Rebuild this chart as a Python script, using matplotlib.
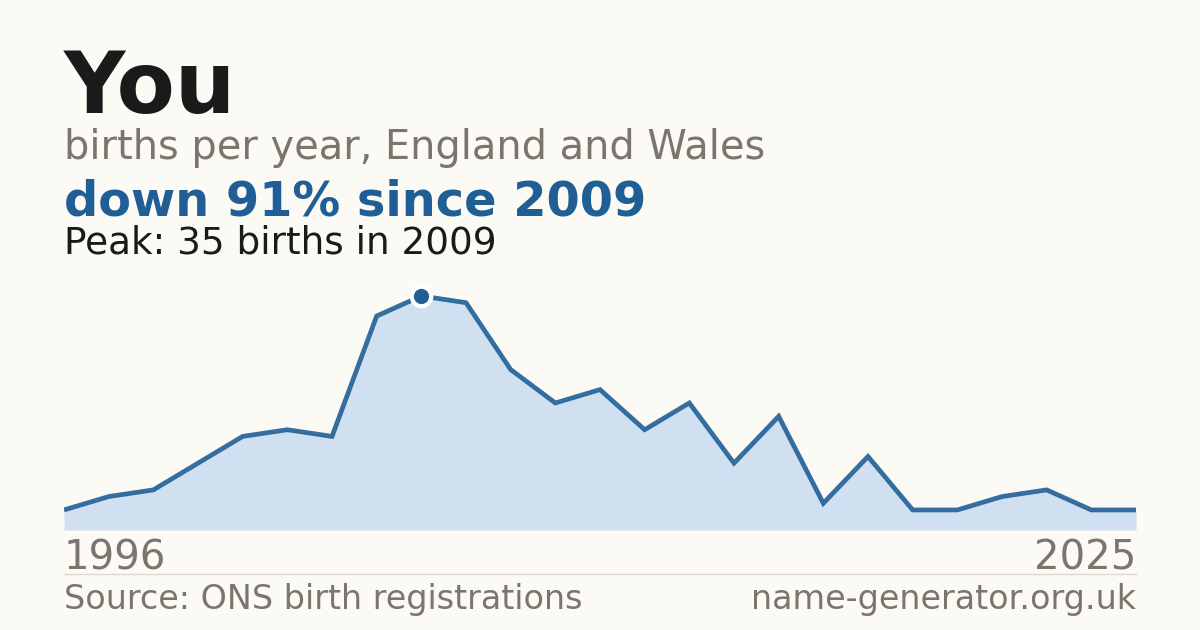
import matplotlib
matplotlib.use("Agg")
import matplotlib.pyplot as plt

# Births per year for the name, England and Wales (years with too few births are not published)
years = [1996, 1998, 2000, 2002, 2004, 2005, 2006, 2007, 2009, 2010, 2011, 2012, 2013,
         2014, 2015, 2016, 2017, 2018, 2019, 2020, 2021, 2022, 2023, 2024, 2025]
births = [3, 5, 6, 10, 14, 15, 14, 32, 35, 34, 24, 19, 21,
          15, 19, 10, 17, 4, 11, 3, 3, 5, 6, 3, 3]

title = "You"
subtitle = "births per year, England and Wales"
headline = "down 91% since 2009"
peak_note = "Peak: 35 births in 2009"
source = "Source: ONS birth registrations"
site = "name-generator.org.uk"

bg = "#fbfaf5"
blue = "#1f5f96"
fill = "#d0e0f0"
grey = "#7a756d"
dark = "#1a1a1a"

fig = plt.figure(figsize=(12, 6.3), dpi=100, facecolor=bg)

# Chart area: x 64..1136 px, y 280..530 px
ax = fig.add_axes([64 / 1200, 100 / 630, 1072 / 1200, 250 / 630])
ax.set_facecolor(bg)

idx = list(range(len(years)))
ax.fill_between(idx, births, 0, color=fill, linewidth=0)
ax.plot(idx, births, color=blue, linewidth=3.4, alpha=0.9, solid_joinstyle="miter", solid_capstyle="butt")

# Highlight the peak
peak = births.index(max(births))
ax.plot(idx[peak], births[peak], "o", color=blue, markersize=14,
        markeredgecolor="white", markeredgewidth=3, zorder=5)

ax.set_xlim(0, len(years) - 1)
ax.set_ylim(0, max(births) * 250 / 234)
ax.axis("off")

# Texts
fig.text(64 / 1200, 1 - 113 / 630, title, fontsize=61, fontweight="bold", color=dark, va="baseline")
fig.text(64 / 1200, 1 - 159 / 630, subtitle, fontsize=28.7, color=grey, va="baseline")
fig.text(64 / 1200, 1 - 215 / 630, headline, fontsize=34.5, fontweight="bold", color=blue, va="baseline")
fig.text(64 / 1200, 1 - 253 / 630, peak_note, fontsize=26.9, color=dark, va="baseline")

fig.text(64 / 1200, 1 - 569 / 630, str(years[0]), fontsize=28.9, color=grey, va="baseline")
fig.text(1136 / 1200, 1 - 569 / 630, str(years[-1]), fontsize=28.9, color=grey, va="baseline", ha="right")

fig.add_artist(plt.Line2D([64 / 1200, 1136 / 1200], [1 - 574 / 630] * 2, color="#dcd8d0", linewidth=1))

fig.text(64 / 1200, 1 - 609 / 630, source, fontsize=24, color=grey, va="baseline")
fig.text(1136 / 1200, 1 - 609 / 630, site, fontsize=24, color=grey, va="baseline", ha="right")

fig.savefig("out.png", dpi=100, facecolor=bg)
